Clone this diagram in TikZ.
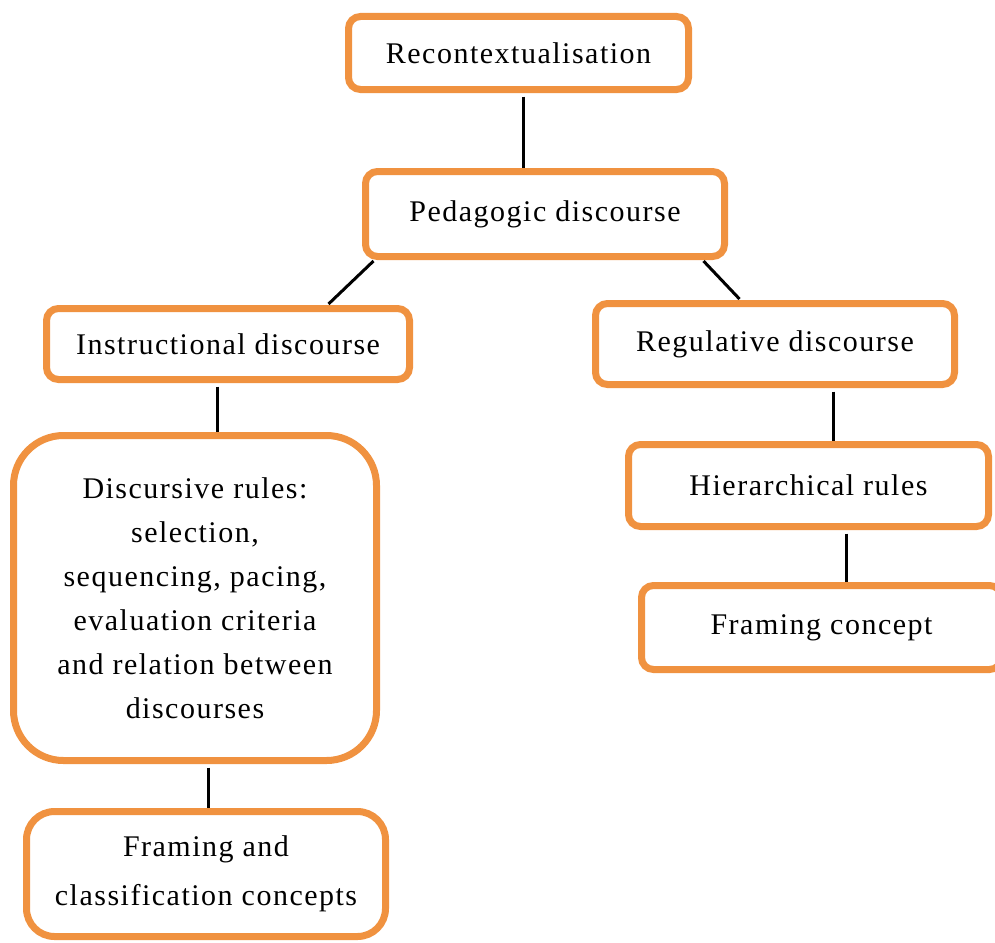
\documentclass[tikz,border=0pt]{standalone}
\usepackage{fontspec}
\setmainfont{Liberation Serif}[LetterSpace=5.0]
\definecolor{boxorange}{RGB}{240,146,64}
\tikzset{
  obox/.style={draw=boxorange, line width=7pt, rounded corners=12pt, fill=white,
    inner sep=0pt, align=center, font=\fontsize{30}{44}\selectfont},
  conn/.style={draw=black, line width=3pt}
}
\begin{document}
\begin{tikzpicture}[x=1pt,y=-1pt]
\useasboundingbox (0,0) rectangle (995,942);
\node[obox, minimum width=340pt, minimum height=73pt] (rec) at (518.5,53) {Recontextualisation};
\node[obox, minimum width=359pt, minimum height=85pt] (ped) at (545,214) {Pedagogic discourse};
\node[obox, minimum width=363pt, minimum height=71pt] (ins) at (228,344) {Instructional discourse};
\node[obox, minimum width=359pt, minimum height=81pt] (reg) at (775,344) {Regulative discourse};
\node[obox, rounded corners=50pt, minimum width=363pt, minimum height=325pt] (disc) at (195,598)
  {Discursive rules:\\selection,\\sequencing, pacing,\\evaluation criteria\\and relation between\\discourses};
\node[obox, minimum width=360pt, minimum height=82pt] (hier) at (808.5,485.5) {Hierarchical rules};
\node[obox, minimum width=360pt, minimum height=84pt] (fcon) at (821.5,627.5) {Framing concept};
\node[obox, rounded corners=28pt, minimum width=359pt, minimum height=125pt,
  font=\fontsize{30}{49}\selectfont] (fcl) at (206,874) {Framing and\\classification concepts};
% connectors
\draw[conn] ([xshift=4.5pt,yshift=-3.5pt]rec.south) -- ([xshift=4.5pt]rec.south |- ped.north) coordinate (c1);
\draw[conn] ([xshift=11.5pt,yshift=-1pt]ped.south west) -- ([xshift=-84.5pt,yshift=1pt]ins.north east);
\draw[conn] ([xshift=-24.5pt,yshift=-1pt]ped.south east) -- ([xshift=147.5pt,yshift=1pt]reg.north west);
\draw[conn] ([xshift=-11pt,yshift=-3.5pt]ins.south) -- ([xshift=-11pt]ins.south |- disc.north);
\draw[conn] ([xshift=13pt,yshift=-3.5pt]disc.south) -- ([xshift=13pt]disc.south |- fcl.north);
\draw[conn] ([xshift=58pt,yshift=-3.5pt]reg.south) -- ([xshift=58pt]reg.south |- hier.north);
\draw[conn] ([xshift=37.5pt,yshift=-3.5pt]hier.south) -- ([xshift=37.5pt]hier.south |- fcon.north);
\end{tikzpicture}
\end{document}
